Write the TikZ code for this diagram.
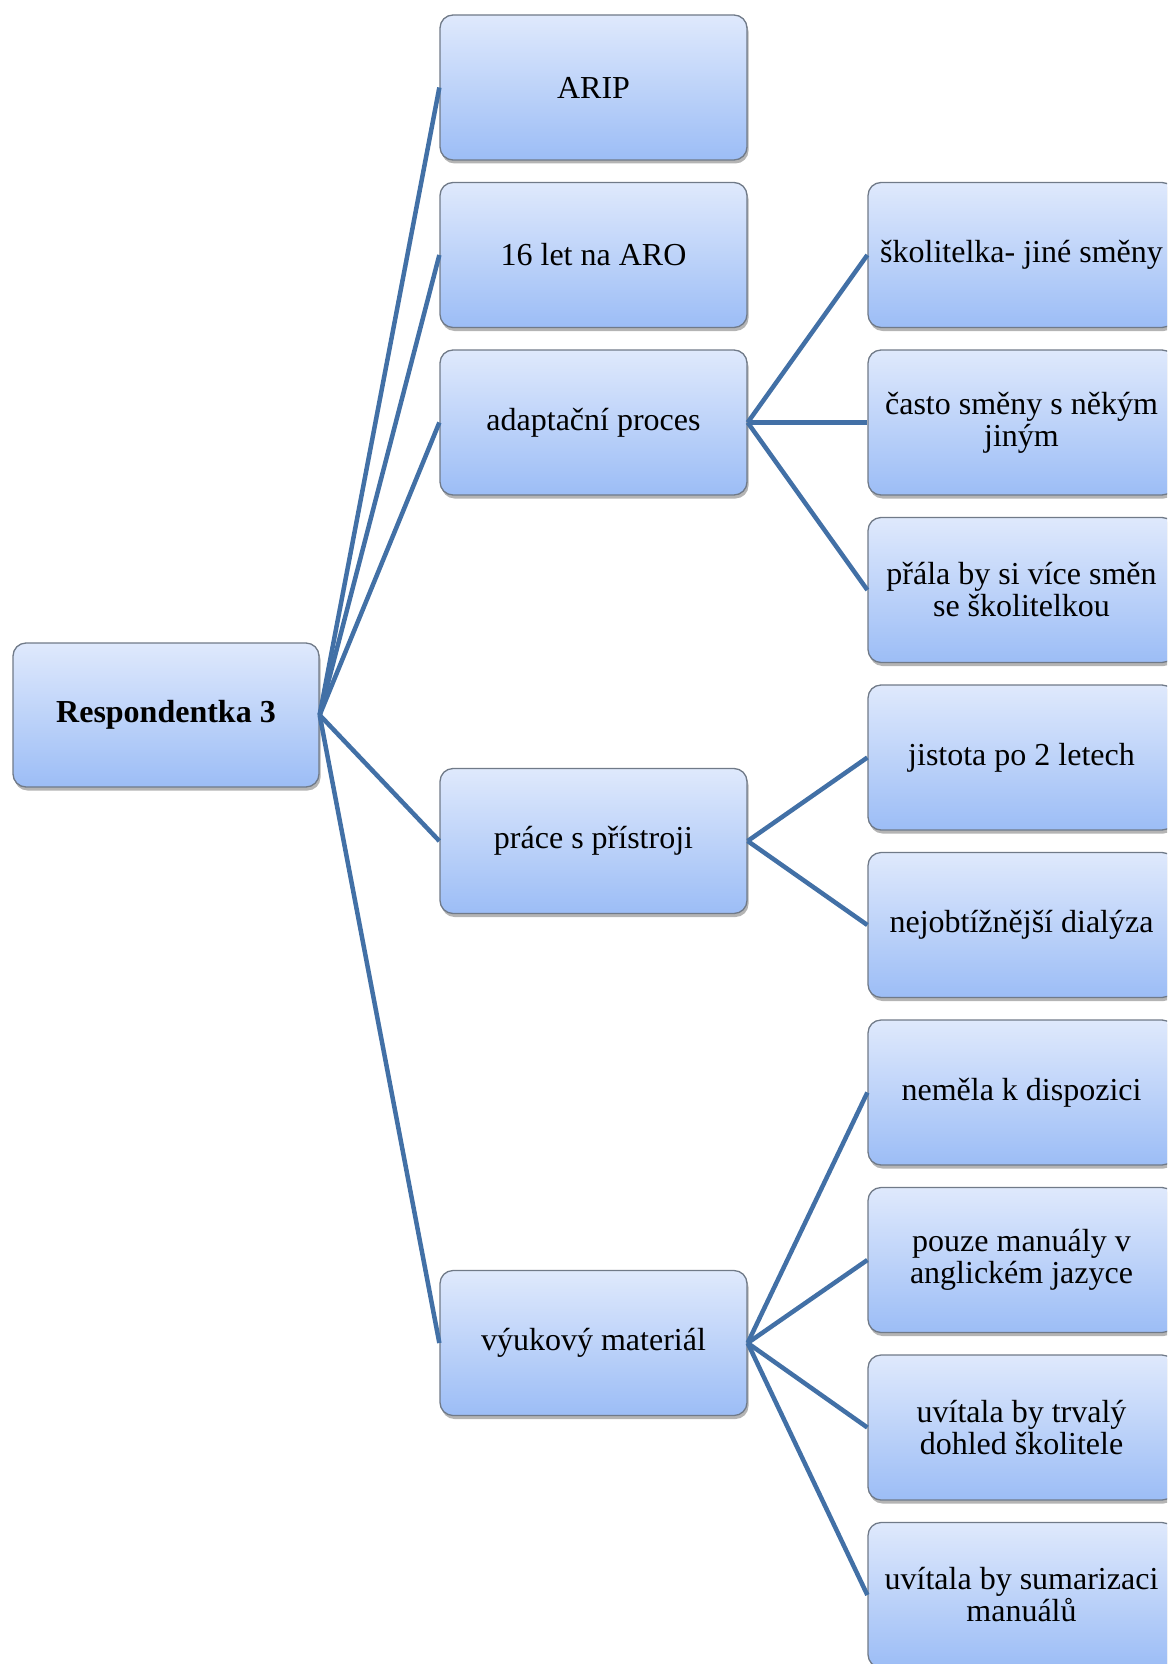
\documentclass[tikz,border=0pt]{standalone}
\usepackage{fontspec}
\setmainfont{Liberation Serif}
\usetikzlibrary{shadows}
\definecolor{linkblue}{RGB}{66,112,166}
\definecolor{boxtop}{RGB}{223,233,252}
\definecolor{boxbottom}{RGB}{156,189,246}
\definecolor{boxedge}{RGB}{112,122,136}
\begin{document}
\begin{tikzpicture}[x=1pt,y=-1pt,
  box/.style={draw=boxedge, line width=1.3pt, rounded corners=13pt,
    top color=boxtop, bottom color=boxbottom,
    minimum width=307pt, minimum height=145pt, inner sep=0pt, align=center,
    font=\fontsize{32}{32}\selectfont,
    drop shadow={shadow xshift=1.5pt, shadow yshift=-3.5pt, opacity=0.45, fill=black!65}},
  link/.style={draw=linkblue, line width=4.5pt}]
  \useasboundingbox (0,0) rectangle (1167,1664);
  \clip (0,0) rectangle (1167,1664);

  % root
  \node[box, minimum width=306pt, minimum height=144pt] (root) at (166,715) {\bfseries Respondentka 3};

  % second level
  \node[box] (arip)  at (593.5,87.5)  {ARIP};
  \node[box] (let)   at (593.5,255)   {16 let na ARO};
  \node[box] (adapt) at (593.5,422.5) {adaptační proces};
  \node[box] (prace) at (593.5,841)   {práce s přístroji};
  \node[box] (vyuk)  at (593.5,1343)  {výukový materiál};

  % third level
  \node[box] (a1) at (1021.5,255)    {školitelka- jiné směny};
  \node[box] (a2) at (1021.5,422.5)  {často směny s někým\\jiným};
  \node[box] (a3) at (1021.5,590)    {přála by si více směn\\se školitelkou};
  \node[box] (p1) at (1021.5,757.5)  {jistota po 2 letech};
  \node[box] (p2) at (1021.5,925)    {nejobtížnější dialýza};
  \node[box] (v1) at (1021.5,1092.5) {neměla k dispozici};
  \node[box] (v2) at (1021.5,1260)   {pouze manuály v\\anglickém jazyce};
  \node[box] (v3) at (1021.5,1427.5) {uvítala by trvalý\\dohled školitele};
  \node[box] (v4) at (1021.5,1595)   {uvítala by sumarizaci\\manuálů};

  % connectors
  \foreach \t in {arip,let,adapt,prace,vyuk}
    \draw[link] (root.east) -- (\t.west);
  \foreach \t in {a1,a2,a3}
    \draw[link] (adapt.east) -- (\t.west);
  \foreach \t in {p1,p2}
    \draw[link] (prace.east) -- (\t.west);
  \foreach \t in {v1,v2,v3,v4}
    \draw[link] (vyuk.east) -- (\t.west);
\end{tikzpicture}
\end{document}
